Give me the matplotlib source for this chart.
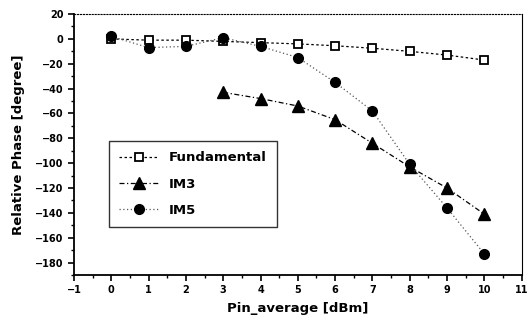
import matplotlib
matplotlib.use("Agg")
import matplotlib.pyplot as plt
from matplotlib.ticker import MultipleLocator

plt.rcParams['font.family'] = ['DejaVu Sans']
plt.rcParams['font.weight'] = 'bold'

x_all = [0, 1, 2, 3, 4, 5, 6, 7, 8, 9, 10]
fundamental = [0, -1, -1, -2, -3, -4, -5.5, -7.5, -10, -13, -17]
x_im3 = [3, 4, 5, 6, 7, 8, 9, 10]
im3 = [-43, -48, -54, -65, -84, -103, -120, -141]
im5 = [2, -7, -6, 1, -6, -15, -35, -58, -101, -136, -173]

fig = plt.figure(figsize=(5.29, 3.27), dpi=100)
ax = fig.add_axes([0.14, 0.159, 0.846, 0.798])

ax.plot(x_all, fundamental, color='black', linestyle=(0, (2, 2)), linewidth=0.9,
        marker='s', markersize=6, markerfacecolor='white', markeredgecolor='black',
        markeredgewidth=1.3, label='Fundamental')
ax.plot(x_im3, im3, color='black', linestyle=(0, (4, 2, 1, 2)), linewidth=0.9,
        marker='^', markersize=8, markerfacecolor='black', label='IM3')
ax.plot(x_all, im5, color='#555555', linestyle=(0, (1, 2)), linewidth=0.9,
        marker='o', markersize=7, markerfacecolor='black', markeredgecolor='black',
        label='IM5')

ax.set_xlim(-1, 11)
ax.set_ylim(-190, 20)
ax.xaxis.set_major_locator(MultipleLocator(1))
ax.xaxis.set_minor_locator(MultipleLocator(0.5))
ax.yaxis.set_major_locator(MultipleLocator(20))
ax.yaxis.set_minor_locator(MultipleLocator(10))
ax.tick_params(which='major', direction='out', length=4, width=1.2, labelsize=7)
ax.tick_params(which='minor', direction='out', length=2, width=1)

ax.spines['top'].set_linestyle(':')
ax.spines['left'].set_linewidth(1.3)
ax.spines['bottom'].set_linewidth(1.3)

ax.set_xlabel('Pin_average [dBm]', fontsize=9.5, fontweight='bold', labelpad=5)
ax.set_ylabel('Relative Phase [degree]', fontsize=9.5, fontweight='bold', labelpad=7)

leg = ax.legend(loc='lower left', bbox_to_anchor=(0.063, 0.16), fontsize=9.5,
                frameon=True, fancybox=False, edgecolor='black',
                handlelength=3, labelspacing=1.0, borderpad=0.75)
leg.get_frame().set_linewidth(1.0)

fig.savefig('out.png', dpi=100)
